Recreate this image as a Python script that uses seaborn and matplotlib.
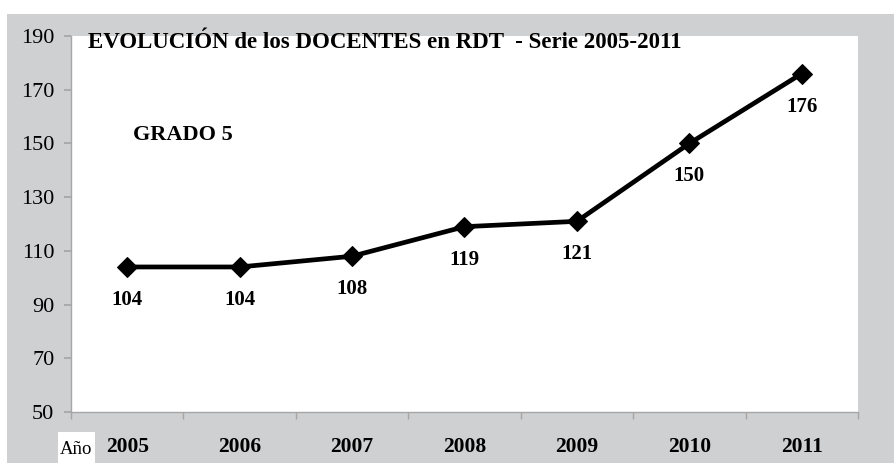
import matplotlib
matplotlib.use("Agg")
import matplotlib.pyplot as plt
import seaborn as sns
import pandas as pd
from matplotlib.patches import Rectangle
from matplotlib.ticker import FixedLocator

years = ["2005", "2006", "2007", "2008", "2009", "2010", "2011"]
docentes = [104, 104, 108, 119, 121, 150, 176]
y_ticks = [50, 70, 90, 110, 130, 150, 170, 190]
title = "EVOLUCIÓN de los DOCENTES en RDT  - Serie 2005-2011"
subtitle = "GRADO 5"

df = pd.DataFrame({"Año": years, "Docentes": docentes})

sns.set_theme(style="white")
plt.rcParams["font.family"] = ["Liberation Serif", "DejaVu Serif"]
plt.rcParams["text.color"] = "black"
plt.rcParams["xtick.color"] = "black"
plt.rcParams["ytick.color"] = "black"

W, H = 894, 463
fig = plt.figure(figsize=(W / 100, H / 100), dpi=100)
fig.patch.set_facecolor("white")
# grey chart frame, behind everything
fig.patches.append(Rectangle((7 / W, 0), 1 - 7 / W, 1 - 14 / H,
                             transform=fig.transFigure, facecolor="#cfd0d2",
                             edgecolor="none", zorder=-10))
ax = fig.add_axes([71 / W, 1 - 412 / H, (858 - 71) / W, (412 - 36) / H])
ax.set_facecolor("white")

sns.lineplot(data=df, x="Año", y="Docentes", ax=ax, color="black",
             linewidth=3.4, marker="D", markersize=10, markeredgecolor="black",
             sort=False)

ax.set_xlim(-0.5, len(years) - 0.5)
ax.set_ylim(50, 190)
ax.set_yticks(y_ticks)
ax.set_xlabel("")
ax.set_ylabel("")

for s in ["top", "right"]:
    ax.spines[s].set_visible(False)
for s in ["left", "bottom"]:
    ax.spines[s].set_color("#a6a6a6")
    ax.spines[s].set_linewidth(1.0)

ax.tick_params(axis="y", which="major", left=True, length=5, color="#a6a6a6",
               labelcolor="black", labelsize=16, pad=7)
ax.tick_params(axis="x", which="major", bottom=False, labelcolor="black",
               labelsize=15.5, pad=12)
ax.xaxis.set_minor_locator(FixedLocator([i - 0.5 for i in range(len(years) + 1)]))
ax.tick_params(axis="x", which="minor", bottom=True, length=5, color="#a6a6a6")
for lbl in ax.get_xticklabels():
    lbl.set_fontweight("bold")

# value labels below each marker
for i, v in enumerate(docentes):
    ax.annotate(str(v), (i, v), xytext=(0, -33), textcoords="offset pixels",
                ha="center", va="center", fontsize=15, fontweight="bold",
                color="black")

fig.text(88 / W, 1 - 42 / H, title, ha="left", va="center",
         fontsize=16.5, fontweight="bold", color="black")
fig.text(133 / W, 1 - 135 / H, subtitle, ha="left", va="center",
         fontsize=16, fontweight="bold", color="black")

# axis caption box
fig.patches.append(Rectangle((58 / W, 0), 37 / W, 31 / H,
                             transform=fig.transFigure, facecolor="white",
                             edgecolor="none", zorder=1))
fig.text(76.5 / W, 1 - 449 / H, "Año", ha="center", va="center",
         fontsize=13.5, color="black", zorder=2)

fig.savefig("out.png", dpi=100)
